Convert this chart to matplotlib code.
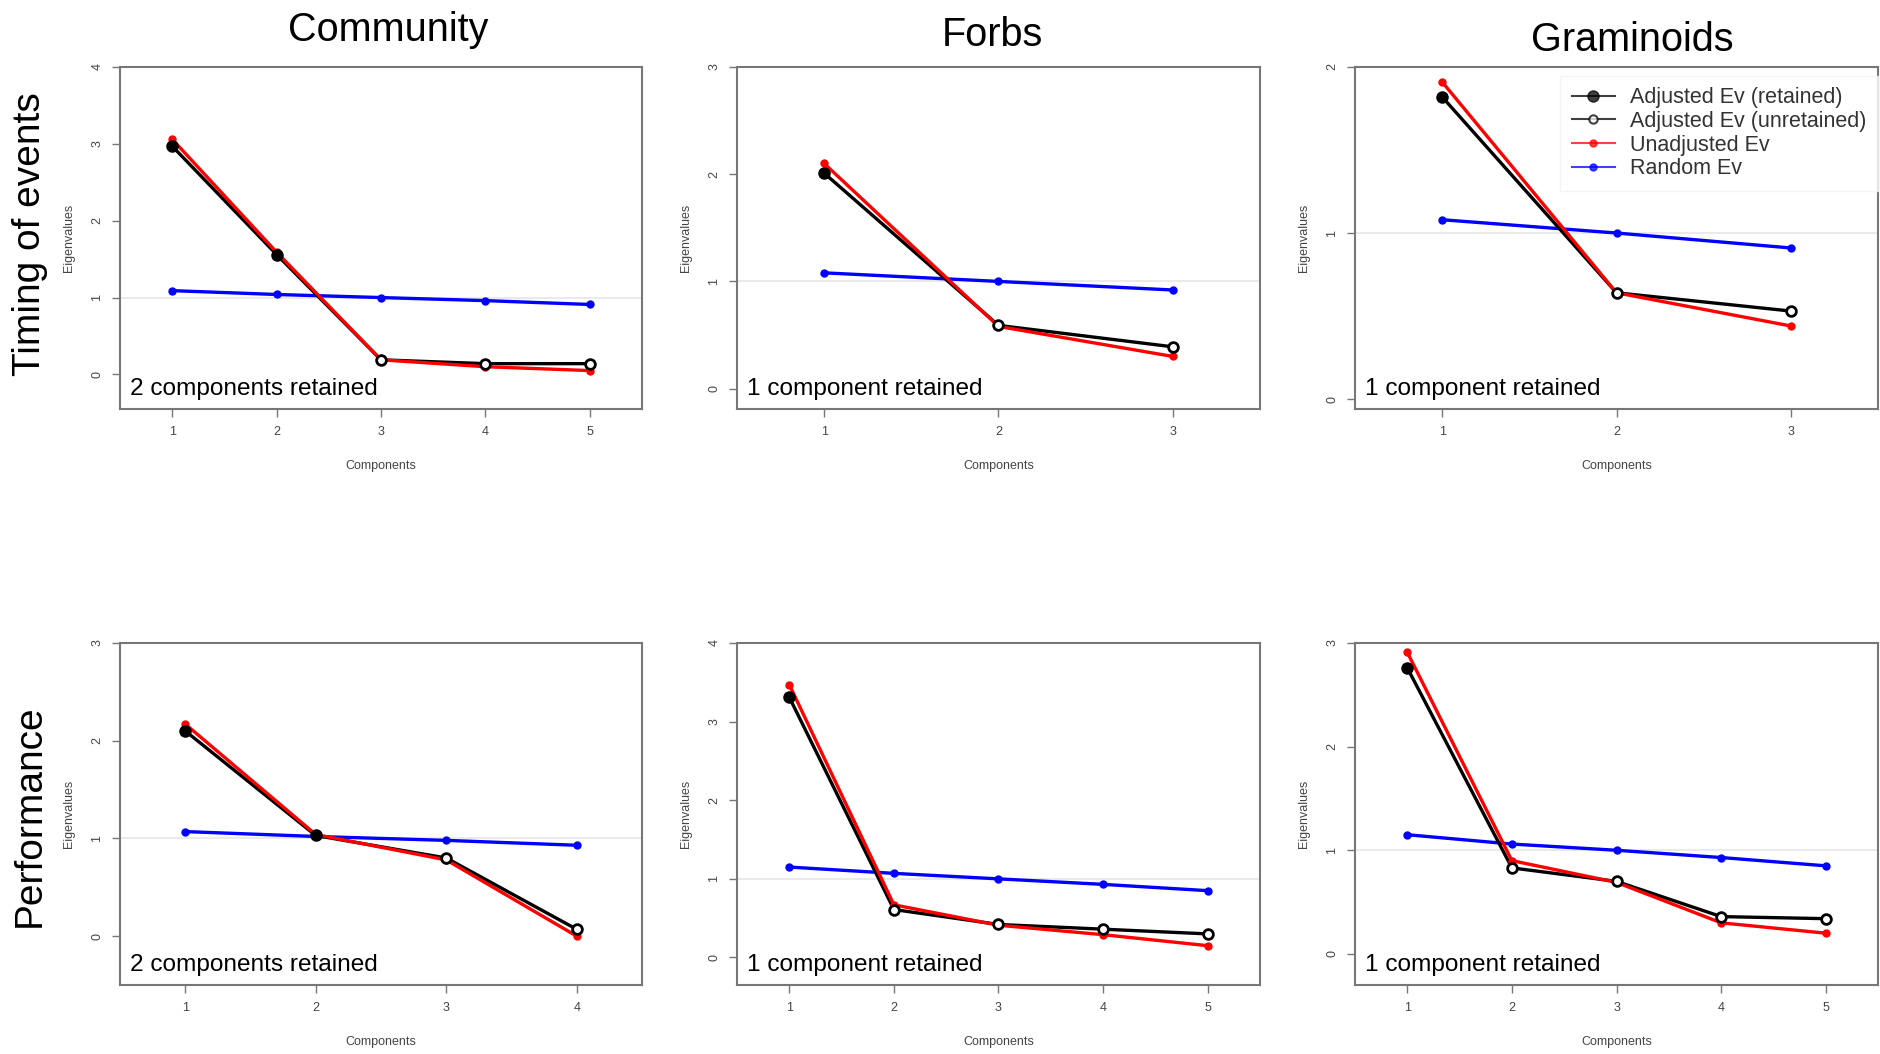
import numpy as np
import matplotlib
matplotlib.use('Agg')
import matplotlib.pyplot as plt
from matplotlib.lines import Line2D

plt.rcParams['font.family'] = ['Liberation Sans', 'DejaVu Sans']

# Eigenvalues (timing of events / performance, per group)
tim_comm_adj = [2.97, 1.56, 0.19, 0.14, 0.14]
tim_comm_unadj = [3.06, 1.59, 0.19, 0.10, 0.05]
tim_comm_rand = [1.09, 1.04, 1.00, 0.96, 0.91]

tim_forb_adj = [2.01, 0.59, 0.39]
tim_forb_unadj = [2.10, 0.58, 0.30]
tim_forb_rand = [1.08, 1.00, 0.92]

tim_gram_adj = [1.82, 0.64, 0.53]
tim_gram_unadj = [1.91, 0.64, 0.44]
tim_gram_rand = [1.08, 1.00, 0.91]

perf_comm_adj = [2.10, 1.03, 0.80, 0.07]
perf_comm_unadj = [2.17, 1.04, 0.78, 0.00]
perf_comm_rand = [1.07, 1.02, 0.98, 0.93]

perf_forb_adj = [3.31, 0.61, 0.42, 0.36, 0.30]
perf_forb_unadj = [3.47, 0.67, 0.41, 0.29, 0.15]
perf_forb_rand = [1.15, 1.07, 1.00, 0.93, 0.85]

perf_gram_adj = [2.76, 0.83, 0.70, 0.36, 0.34]
perf_gram_unadj = [2.91, 0.90, 0.69, 0.30, 0.20]
perf_gram_rand = [1.15, 1.06, 1.00, 0.93, 0.85]

retained = [2, 1, 1, 2, 1, 1]
col_titles = ['Community', 'Forbs', 'Graminoids']
row_titles = ['Timing of events', 'Performance']

panels = [
    (tim_comm_adj, tim_comm_unadj, tim_comm_rand),
    (tim_forb_adj, tim_forb_unadj, tim_forb_rand),
    (tim_gram_adj, tim_gram_unadj, tim_gram_rand),
    (perf_comm_adj, perf_comm_unadj, perf_comm_rand),
    (perf_forb_adj, perf_forb_unadj, perf_forb_rand),
    (perf_gram_adj, perf_gram_unadj, perf_gram_rand),
]
ytop = [4, 3, 2, 3, 4, 3]
ybot = [-0.45, -0.19, -0.06, -0.5, -0.35, -0.3]

W, H = 1881, 1054
fig = plt.figure(figsize=(W / 100, H / 100), dpi=100)

lefts = [120, 737, 1355]
widths = [522, 523, 523]
tops = [67, 643]
h = 342
gray = '#777777'

for i, (adj, unadj, rand) in enumerate(panels):
    r, c = divmod(i, 3)
    ax = fig.add_axes([lefts[c] / W, 1 - (tops[r] + h) / H, widths[c] / W, h / H])
    n = len(adj)
    x = np.arange(1, n + 1)
    k = retained[i]

    ax.axhline(1, color='#e6e6e6', linewidth=1.2, zorder=1)
    ax.plot(x, rand, color='blue', lw=2.4, marker='o', ms=5, zorder=2)
    ax.plot(x, adj, color='black', lw=2.4, zorder=3)
    ax.plot(x, unadj, color='red', lw=2.4, marker='o', ms=5, zorder=4)
    ax.plot(x[:k], adj[:k], 'o', color='black', ms=8, zorder=5)
    ax.plot(x[k:], adj[k:], 'o', mfc='white', mec='black', mew=2, ms=7, zorder=5)

    ax.set_xlim(0.5, n + 0.5)
    ax.set_ylim(ybot[i], ytop[i])
    ax.set_xticks(x)
    ax.set_yticks(np.arange(0, ytop[i] + 1))
    ax.tick_params(axis='both', direction='out', length=6, width=1, color=gray,
                   labelsize=9, labelcolor='#444444', pad=6)
    ax.tick_params(axis='y', labelrotation=90)
    for lab in ax.get_yticklabels():
        lab.set_va('center')
    for sp in ax.spines.values():
        sp.set_color(gray)
        sp.set_linewidth(1.5)
    ax.set_xlabel('Components', fontsize=9, color='#444444', labelpad=16)
    ax.set_ylabel('Eigenvalues', fontsize=9, color='#444444', labelpad=12)

    txt = '%d component%s retained' % (k, 's' if k > 1 else '')
    ax.text(0.02, 0.025, txt, transform=ax.transAxes, fontsize=17.6, va='bottom', ha='left')

    if i == 2:
        handles = [
            Line2D([], [], color='black', lw=1.5, marker='o', ms=8, alpha=0.75),
            Line2D([], [], color='black', lw=1.5, marker='o', ms=6, mfc='white', mew=1.5, alpha=0.75),
            Line2D([], [], color='red', lw=1.5, marker='o', ms=5, alpha=0.75),
            Line2D([], [], color='blue', lw=1.5, marker='o', ms=5, alpha=0.75),
        ]
        labels = ['Adjusted Ev (retained)', 'Adjusted Ev (unretained)',
                  'Unadjusted Ev', 'Random Ev']
        leg = ax.legend(handles, labels, loc='upper right', bbox_to_anchor=(1.0, 0.975),
                        fontsize=15.5, frameon=True, fancybox=False, edgecolor='#f2f2f2',
                        borderaxespad=0, labelspacing=0.12, handlelength=2.0,
                        handletextpad=0.7, borderpad=0.55)
        for t in leg.get_texts():
            t.set_color('#333333')

title_pos = [(388, 30), (992, 35), (1632, 40)]
for t, (tx, ty) in zip(col_titles, title_pos):
    fig.text(tx / W, 1 - ty / H, t, fontsize=28.5, ha='center', va='center')

fig.text(30 / W, 1 - 234 / H, row_titles[0], fontsize=28, rotation=90, ha='center', va='center')
fig.text(30 / W, 1 - 816 / H, row_titles[1], fontsize=28, rotation=90, ha='center', va='center')

fig.savefig('out.png', dpi=100)
